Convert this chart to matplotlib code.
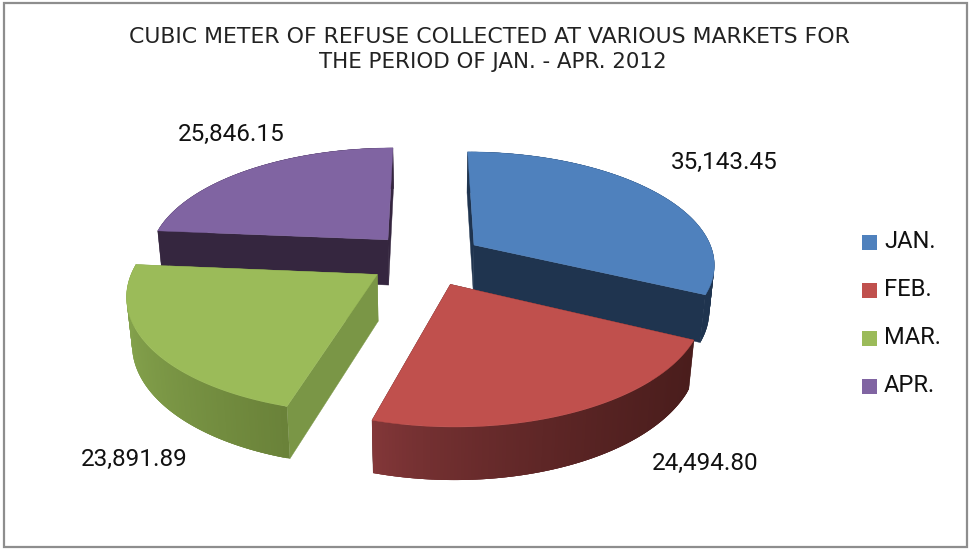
import numpy as np
import matplotlib
matplotlib.use('Agg')
import matplotlib.pyplot as plt
from matplotlib.patches import Rectangle
from matplotlib.colors import to_rgb

# chart values
months = ['JAN.', 'FEB.', 'MAR.', 'APR.']
refuse = [35143.45, 24494.80, 23891.89, 25846.15]
value_labels = ['35,143.45', '24,494.80', '23,891.89', '25,846.15']
title_lines = ['CUBIC METER OF REFUSE COLLECTED AT VARIOUS MARKETS FOR',
               'THE PERIOD OF JAN. - APR. 2012']

top_colors = ['#4F81BD', '#C0504D', '#9BBB59', '#8064A2']
face_colors = ['#1F344F', '#4A1D1C', '#7A9646', '#35263F']
# rim gradient, left end -> right end
rim_colors = [('#1F344F', '#1F344F'), ('#85383A', '#4A1D1C'),
              ('#84A24C', '#6A8239'), ('#35263F', '#35263F')]

# pie geometry, pixels
CX, CY = 426, 259
RADIUS = 241
TILT = np.radians(27.6)
CAM = 5.7
HEIGHT = 0.22
EXPLODE = 0.24


def project(x, y, z=0.0):
    # pinhole view of the pie, camera looks down from the front
    d = CAM + y * np.cos(TILT) - z * np.sin(TILT)
    k = CAM / d
    return CX + RADIUS * x * k, CY - RADIUS * (y * np.sin(TILT) + z * np.cos(TILT)) * k


def draw_slice(ax, start, end, top_col, face_col, rim_col):
    mid = (start + end) / 2
    ox, oy = EXPLODE * np.sin(mid), EXPLODE * np.cos(mid)
    ang = np.linspace(start, end, 120)
    xs, ys = ox + np.sin(ang), oy + np.cos(ang)

    # the two cut faces
    for a in (start, end):
        ex, ey = ox + np.sin(a), oy + np.cos(a)
        p = [project(ox, oy), project(ex, ey), project(ex, ey, -HEIGHT), project(ox, oy, -HEIGHT)]
        ax.fill(*zip(*p), color=face_col, lw=0.3, zorder=2)

    # outer rim in strips so that the shading can change; each strip
    # overlaps the next one, otherwise the seams show up as stripes
    left, right = to_rgb(rim_col[0]), to_rgb(rim_col[1])
    tx, ty = project(xs, ys)
    bx, by = project(xs, ys, -HEIGHT)
    for i in range(len(ang) - 1):
        j = min(i + 3, len(ang) - 1)
        t = ((tx[i] - tx.min()) / (tx.max() - tx.min())) ** 0.7
        col = [l + (r - l) * t for l, r in zip(left, right)]
        ax.fill([tx[i], tx[j], bx[j], bx[i]], [ty[i], ty[j], by[j], by[i]],
                color=col, lw=0, zorder=3)

    # top surface
    ax0, ay0 = project(ox, oy)
    ax.fill(np.r_[ax0, tx], np.r_[ay0, ty], color=top_col, lw=0.3, zorder=4)


fig = plt.figure(figsize=(9.72, 5.5), dpi=100)
ax = fig.add_axes([0, 0, 1, 1])
ax.set_xlim(0, 972)
ax.set_ylim(550, 0)
ax.axis('off')

ax.add_patch(Rectangle((4, 3), 963, 544, fc='white', ec='#8E8E8E', lw=1.6))

fractions = np.array(refuse) / np.sum(refuse)
edges = np.r_[0, np.cumsum(fractions)] * 2 * np.pi

# back slices first
for i in [3, 0, 2, 1]:
    draw_slice(ax, edges[i], edges[i + 1], top_colors[i], face_colors[i], rim_colors[i])

ax.text(489, 37, title_lines[0], family='DejaVu Sans', fontsize=15.8, color='#222222', ha='center', va='center')
ax.text(493, 62, title_lines[1], family='DejaVu Sans', fontsize=15.4, color='#222222', ha='center', va='center')

label_pos = [(724, 162), (705, 463), (134, 459), (231, 134)]
for txt, (lx, ly) in zip(value_labels, label_pos):
    ax.text(lx, ly, txt, family='Roboto', fontsize=17.5, color='#111111', ha='center', va='center')

legend_y = [242, 290, 338, 386]
for name, col, ly in zip(months, top_colors, legend_y):
    ax.add_patch(Rectangle((862, ly - 7), 15, 15, fc=col, ec='none'))
    ax.text(884, ly, name, family='Roboto', fontsize=17, color='#111111', ha='left', va='center')

fig.savefig('out.png', dpi=100)
